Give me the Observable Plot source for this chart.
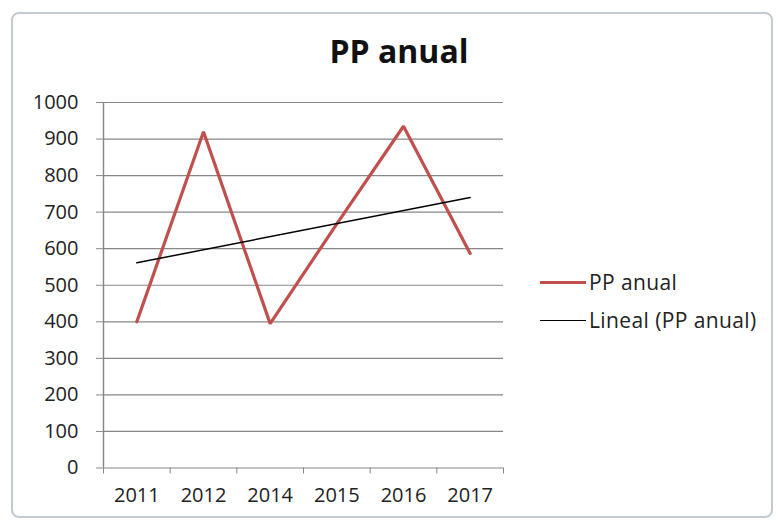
<!DOCTYPE html>
<html>
<head>
<meta charset="utf-8">
<script src="https://cdn.jsdelivr.net/npm/d3@7"></script>
<script src="https://cdn.jsdelivr.net/npm/@observablehq/plot@0.6"></script>
<style>
  html, body { margin: 0; padding: 0; background: #ffffff; }
  #wrap { position: relative; width: 778px; height: 522px; overflow: hidden; background: #ffffff; }
  #frame { position: absolute; left: 11px; top: 12px; width: 758px; height: 502px;
           border: 2px solid #c3cbd1; border-radius: 8px; box-sizing: content-box; }
  #title { position: absolute; left: 0; top: 35px; width: 798px; text-align: center;
           font-family: "Open Sans", sans-serif; font-weight: 700; font-size: 32px; line-height: 1;
           color: #111; }
  #chart { position: absolute; left: 0; top: 80px; }
  .lg { position: absolute; left: 540px; height: 30px; display: flex; align-items: center;
        font-family: "Open Sans", sans-serif; font-size: 21px; letter-spacing: 0.4px; color: #222; white-space: nowrap; }
  .lg .sw { width: 46px; margin-right: 3px; }
</style>
</head>
<body>
<div id="wrap">
  <div id="frame"></div>
  <div id="title"></div>
  <div id="chart"></div>
  <div id="legend"></div>
</div>
<script>
// ---- data ----
const years = ["2011", "2012", "2014", "2015", "2016", "2017"];
const ppAnual = [400, 920, 395, 668, 935, 587];
const yTicks = [0, 100, 200, 300, 400, 500, 600, 700, 800, 900, 1000];
const titleText = "PP anual";
const seriesName = "PP anual";
const trendName = "Lineal (PP anual)";

const red = "#c0504d";
const grid = "#878787";

const data = years.map((y, i) => ({i, year: y, value: ppAnual[i]}));
const boundaries = years.map((_, i) => i - 0.5).concat([years.length - 0.5]);

document.getElementById("title").textContent = titleText;

const plot = Plot.plot({
  width: 778,
  height: 442,
  marginTop: 22,
  marginBottom: 54.5,
  marginLeft: 103,
  marginRight: 275,
  style: {fontFamily: "Open Sans, sans-serif", fontSize: "20px", color: "#222", background: "transparent"},
  x: {type: "linear", domain: [-0.5, years.length - 0.5]},
  y: {domain: [0, 1000]},
  marks: [
    Plot.gridY(yTicks, {stroke: grid, strokeOpacity: 1, strokeWidth: 1.2}),
    Plot.ruleX([-0.5], {stroke: grid, strokeWidth: 1.4}),
    Plot.axisY(yTicks, {tickSize: 7, tickPadding: 18, tickFormat: d => String(d), stroke: grid, fill: "#222", fontSize: 20, label: null}),
    Plot.axisX(boundaries, {tickSize: 6, tickFormat: () => "", stroke: grid, label: null}),
    Plot.axisX(years.map((_, i) => i), {tickSize: 0, tickPadding: 20, tickFormat: i => years[i], fill: "#222", fontSize: 20, label: null}),
    Plot.line(data, {x: "i", y: "value", stroke: red, strokeWidth: 3.2, strokeLinejoin: "miter"}),
    Plot.linearRegressionY(data, {x: "i", y: "value", stroke: "#000", strokeWidth: 1.5, ci: 0})
  ]
});
document.getElementById("chart").appendChild(plot);

// legend
const legend = document.getElementById("legend");
[[seriesName, red, 3.2, 282], [trendName, "#000", 1.5, 320]].forEach(([name, color, w, cy]) => {
  const row = document.createElement("div");
  row.className = "lg";
  row.style.top = (cy - 15) + "px";
  const sw = document.createElement("div");
  sw.className = "sw";
  sw.style.borderTop = w + "px solid " + color;
  const t = document.createElement("span");
  t.textContent = name;
  row.appendChild(sw);
  row.appendChild(t);
  legend.appendChild(row);
});
</script>
</body>
</html>
